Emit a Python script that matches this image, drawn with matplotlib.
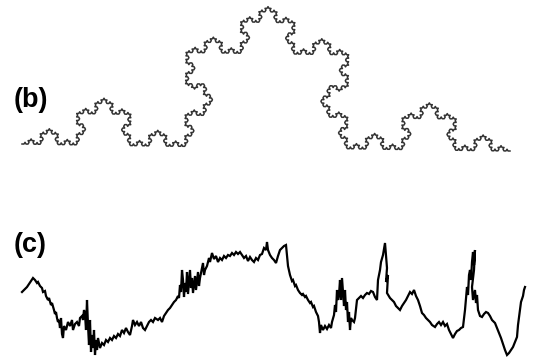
import matplotlib.pyplot as plt
import numpy as np

# Panel (b): Koch curve between two endpoints (pixel-style coordinates, y down)
koch_start = (22, 144)
koch_end = (510, 151)
koch_depth = 5

# Panel (c): irregular trace (one row per stretch)
walk_x = [
    22, 25, 27, 29, 31, 33, 35, 37, 38,
    40, 42, 43, 45, 46, 48, 49, 51, 52, 54, 55, 56, 57, 58, 59, 60,
    61, 62, 63, 64, 66, 68, 70, 72, 73, 75, 77, 79, 80, 82, 83, 84, 85,
    86, 87, 88, 89, 90, 91, 92, 93, 94, 95, 96, 97, 98, 100, 102,
    104, 106, 108, 110, 112, 114, 116, 118, 120, 122, 124, 126, 128, 130, 132,
    133, 135, 137, 139, 141, 143, 145, 147, 149, 151, 153, 155, 158, 160, 162,
    164, 166, 168, 170, 172, 174, 176, 178,
    179, 180, 181, 182, 183, 184, 185, 186, 187, 188, 189, 190, 191, 192, 193,
    195, 196, 198, 199, 200, 202, 203, 204, 205,
    207, 209, 210, 212, 214, 216, 218, 220, 222, 224, 226, 228, 230, 232, 234,
    236, 238, 240, 242, 244, 246, 248, 250, 252, 254, 256, 258, 260, 262, 264,
    266, 267, 268, 270, 272, 274, 276, 278, 280, 282, 284, 286, 287, 288,
    290, 292, 293, 295, 296, 298, 300, 302, 303, 305, 306, 308, 310, 311, 313,
    314, 316, 318, 319, 320, 321, 323, 325, 327, 329, 331, 332,
    334, 335, 336, 337, 338, 339, 340, 341, 342, 343, 344, 345, 346, 347, 348,
    349, 350, 351, 352, 354, 355,
    357, 359, 361, 363, 365, 367, 369, 371, 373, 375, 377, 378, 380, 381, 383,
    385, 386, 387, 386, 388, 387,
    390, 392, 394, 396, 398, 400, 402, 404, 406, 408, 410, 412, 414, 416, 418,
    420, 422, 424, 426, 428, 430, 432, 435, 437, 439, 441, 443, 445, 447, 449,
    451, 453, 455, 457, 459, 461, 463, 465,
    466, 467, 468, 469, 470, 471, 472, 473, 474, 475, 474, 472, 473, 475, 476,
    477, 478, 480, 482, 484, 486, 488, 490, 492, 495, 497, 499, 501, 503, 505,
    507, 509, 511, 513, 515, 517, 518, 520, 521, 523, 524, 525,
]
walk_y = [
    292, 289, 287, 284, 281, 278, 280, 283, 282,
    286, 288, 292, 291, 296, 300, 298, 305, 303, 310, 314, 312, 318, 322, 320, 328,
    318, 334, 338, 326, 330, 322, 326, 320, 330, 324, 322, 326, 318, 316, 320, 310, 314,
    330, 300, 325, 345, 320, 352, 335, 348, 330, 355, 340, 350, 338, 348, 343,
    345, 340, 342, 338, 340, 336, 338, 334, 336, 330, 333, 328, 332, 335, 326,
    320, 325, 322, 326, 322, 328, 330, 326, 322, 320, 322, 318, 320, 318, 322,
    316, 313, 310, 308, 305, 302, 300, 296,
    298, 285, 292, 270, 280, 297, 283, 292, 272, 294, 282, 270, 288, 278, 293,
    276, 290, 272, 286, 278, 268, 263, 275, 270,
    266, 258, 262, 253, 259, 256, 262, 258, 260, 256, 258, 255, 256, 253, 255,
    252, 254, 252, 255, 258, 256, 261, 257, 260, 262, 258, 260, 255, 254, 248,
    250, 242, 250, 255, 258, 260, 263, 256, 250, 248, 246, 245, 255, 266,
    275, 281, 280, 286, 285, 290, 293, 295, 294, 297, 296, 300, 303, 302, 307,
    306, 312, 316, 322, 333, 325, 330, 326, 329, 325, 328, 322,
    315, 305, 312, 290, 300, 295, 280, 300, 278, 292, 306, 290, 310, 302, 322,
    312, 330, 318, 320, 322, 318,
    300, 298, 296, 298, 295, 293, 294, 291, 292, 297, 300, 280, 270, 262, 255,
    243, 255, 268, 282, 275, 293,
    298, 300, 302, 306, 308, 310, 306, 303, 300, 296, 292, 294, 290, 296, 300,
    306, 313, 315, 318, 320, 322, 325, 327, 324, 322, 325, 322, 326, 324, 330,
    334, 338, 334, 331, 330, 328, 327, 310,
    298, 287, 295, 275, 270, 280, 262, 252, 265, 250, 270, 287, 300, 290, 303,
    295, 310, 316, 317, 314, 312, 313, 316, 320, 323, 328, 333, 338, 344, 350,
    355, 353, 350, 347, 342, 337, 325, 310, 302, 296, 290, 287,
]

if len(walk_x) != len(walk_y):
    raise ValueError(f"walk_x has {len(walk_x)} values, walk_y has {len(walk_y)}.")


def koch_points(p0, p1, depth):
    pts = np.array([p0, p1], dtype=float)
    # rotate by -60 deg so each bump points upward on the inverted y axis
    c, s = np.cos(-np.pi / 3), np.sin(-np.pi / 3)
    for _ in range(depth):
        a = pts[:-1]
        d = (pts[1:] - a) / 3.0
        tip = np.column_stack([d[:, 0] * c - d[:, 1] * s, d[:, 0] * s + d[:, 1] * c])
        q1 = a + d
        q3 = a + 2 * d
        q2 = q1 + tip
        pts = np.vstack([np.stack([a, q1, q2, q3], axis=1).reshape(-1, 2), pts[-1:]])
    return pts


fig = plt.figure(figsize=(5.35, 3.6), dpi=100)
ax = fig.add_axes([0, 0, 1, 1])
ax.set_xlim(0, 535)
ax.set_ylim(360, 0)
ax.axis("off")

koch = koch_points(koch_start, koch_end, koch_depth)
ax.plot(koch[:, 0], koch[:, 1], color="#333333", linewidth=1.1)

ax.plot(walk_x, walk_y, color="black", linewidth=1.6, solid_joinstyle="miter")

label_font = dict(fontsize=19.5, fontweight="bold", family="Liberation Sans",
                  va="center", ha="left")
ax.text(14, 100, "(b)", **label_font)
ax.text(14, 245, "(c)", **label_font)

fig.savefig("out.png", dpi=100)
plt.close(fig)
